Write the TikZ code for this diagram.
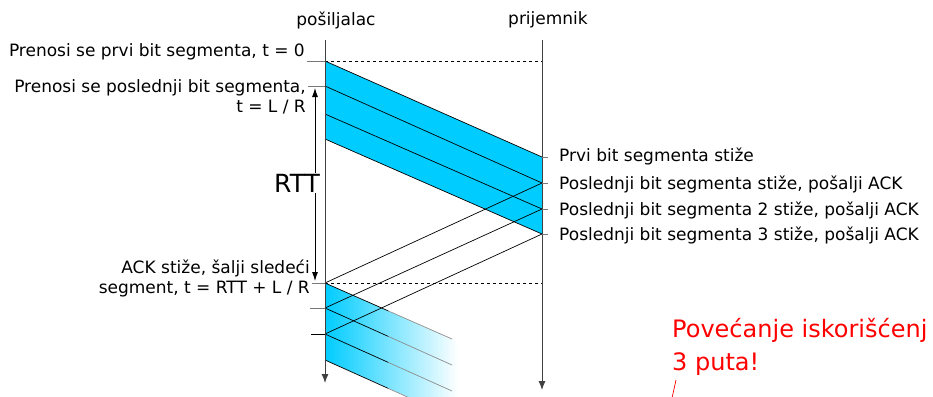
\documentclass[tikz,border=0pt]{standalone}
\usepackage{fontspec}
\setmainfont{DejaVu Sans}
\usetikzlibrary{arrows.meta,positioning,calc}
\definecolor{segblue}{RGB}{0,204,255}
\definecolor{tickgray}{RGB}{120,120,120}
\definecolor{notered}{RGB}{255,0,0}
\tikzset{
  lbl/.style={inner sep=0pt,font=\fontsize{17}{20}\selectfont},
  lblr/.style={lbl,anchor=east,align=right},
  lbll/.style={lbl,anchor=west},
  timeline/.style={draw=black!75,line width=0.9pt,-{Latex[length=9pt,width=7pt]}},
  seg/.style={draw=black,line width=0.7pt},
  fadeseg/.style={draw=black!45,line width=0.7pt},
  tick/.style={draw=tickgray,line width=0.8pt},
}
\begin{document}
\begin{tikzpicture}[x=1pt,y=-1pt,>=Latex]
\useasboundingbox (0,0) rectangle (933,396);
\clip (0,0) rectangle (933,396);
% time axes
\coordinate (sTop) at (325,40);
\coordinate (sBot) at (325,383);
\coordinate (rTop) at (542,40);
\coordinate (rBot) at (542,390);
% first segment window (sender / receiver)
\coordinate (a0) at (325,61);
\coordinate (a1) at (325,86);
\coordinate (a2) at (325,114);
\coordinate (a3) at (325,139);
\coordinate (b0) at (542,157);
\coordinate (b1) at (542,183);
\coordinate (b2) at (542,209);
\coordinate (b3) at (542,234);
% next window
\coordinate (c0) at (325,283);
\coordinate (c1) at (325,308);
\coordinate (c2) at (325,334);
\coordinate (c3) at (325,360);
\coordinate (d0) at (452,339);
\coordinate (d1) at (452,365);
\coordinate (d2) at (452,391);
\coordinate (d3) at (452,417);

\fill[segblue] (a0) -- (b0) -- (b3) -- (a3) -- cycle;
\shade[left color=segblue,right color=white] (c0) -- (458,342) -- (458,419) -- (c3) -- cycle;

\draw[seg] (a0) -- (b0);
\draw[seg] (a1) -- (b1);
\draw[seg] (a2) -- (b2);
\draw[seg] (a3) -- (b3);
\draw[seg] (b1) -- (c0);
\draw[seg] (b2) -- (c1);
\draw[seg] (b3) -- (c2);
\foreach \i in {0,1,2,3} {
  \draw[seg] (c\i) -- ($(c\i)!0.5!(d\i)$);
  \draw[fadeseg] ($(c\i)!0.5!(d\i)$) -- (d\i);
}

\draw[dashed,line width=0.6pt] (a0) -- (a0 -| rTop);
\draw[dashed,line width=0.6pt] (c0) -- (c0 -| rTop);

\draw[timeline] (sTop) -- (sBot);
\draw[timeline] (rTop) -- (rBot);

% ticks
\draw[tick] (a0) -- ++(-18,0);
\draw[tick] (a1) -- ++(-17,0);
\draw[tick] (c0) -- ++(-13,0);
\draw[tick] (c1) -- ++(-15,0);
\draw[seg] (c2) -- ++(-14,0);
\foreach \p in {b0,b1,b2,b3} \draw[tick] (\p) -- ++(6,0);

% labels
\node[lbl] (snd) at (336,20) {pošiljalac};
\node[lbl] (rcv) at (548,20) {prijemnik};
\node[lblr] (tfirst) at (305,52) {Prenosi se prvi bit segmenta, t = 0};
\node[lblr] (tlast) at (306,97) {Prenosi se poslednji bit segmenta,\\t = L / R};
\node[lblr] (tack) at (310,278) {ACK stiže, šalji sledeći\\segment, t = RTT + L / R};
\node[lbll] (rfirst) at (559,156) {Prvi bit segmenta stiže};
\node[lbll] (rlast1) at (559,184) {Poslednji bit segmenta stiže, pošalji ACK};
\node[lbll] (rlast2) at (559,210) {Poslednji bit segmenta 2 stiže, pošalji ACK};
\node[lbll] (rlast3) at (559,235) {Poslednji bit segmenta 3 stiže, pošalji ACK};

% RTT
\coordinate (rttTop) at (315,88);
\coordinate (rttBot) at (315,281);
\draw[line width=0.8pt,{Latex[length=9pt,width=6pt]}-{Latex[length=9pt,width=6pt]}] (rttTop) -- (rttBot);
\node[fill=white,inner sep=1pt,font=\fontsize{25}{27}\selectfont] (rtt) at (297,183) {RTT};

% note
\node[anchor=west,align=left,inner sep=0pt,text=notered,font=\fontsize{24}{33}\selectfont] (note) at (672,347) {Povećanje iskorišćenj\\3 puta!};
\coordinate (noteA) at (676,380);
\coordinate (noteB) at (672,398);
\draw[notered,line width=0.7pt] (noteA) -- (noteB);
\end{tikzpicture}
\end{document}
